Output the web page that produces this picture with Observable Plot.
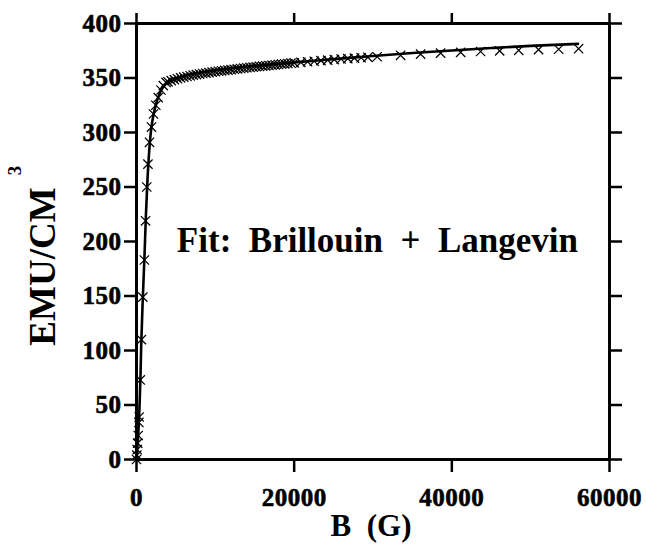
<!DOCTYPE html>
<html><head><meta charset="utf-8">
<script src="https://cdn.jsdelivr.net/npm/d3@7"></script>
<script src="https://cdn.jsdelivr.net/npm/@observablehq/plot@0.6"></script>
<style>body{margin:0;background:#fff}</style>
</head><body><div id="chart"></div>
<script>
// measured points (B in gauss, M in emu/cm^3)
const fieldB = [0, 40, 90, 150, 220, 300, 340, 480, 620, 800, 1000, 1150, 1300, 1450, 1650, 1900, 2150, 2450, 2750, 3100, 3400, 3750,
  4000, 4400, 4800, 5200, 5600, 6000, 6400, 6800, 7200, 7600, 8000, 8400, 8800, 9200, 9600, 10000, 10400, 10800, 11200, 11600,
  12000, 12400, 12800, 13200, 13600, 14000, 14400, 14800, 15200, 15600, 16000, 16400, 16800, 17200, 17600, 18000, 18400, 18800,
  19200, 19600, 20000, 20850, 21700, 22550, 23400, 24250, 25100, 25950, 26800, 27650, 28500, 29350,
  30530, 33500, 36040, 38580, 41120, 43650, 46070, 48480, 51000, 53550, 56080];
const magM = [0, 4, 9, 15, 22, 34, 39, 73, 110, 149, 183, 219, 250, 271, 291, 305, 317, 325, 332, 339, 343, 346,
  346.5, 347.6, 348.5, 349.3, 350.1, 350.8, 351.4, 352.0, 352.6, 353.1, 353.6, 354.1, 354.5, 355.0, 355.4, 355.8, 356.2, 356.6, 357.0, 357.3,
  357.7, 358.0, 358.4, 358.7, 359.0, 359.4, 359.7, 360.0, 360.3, 360.6, 360.9, 361.2, 361.5, 361.8, 362.1, 362.4, 362.7, 363.0,
  363.3, 363.6, 363.9, 364.4, 364.9, 365.4, 365.9, 366.4, 366.9, 367.4, 367.8, 368.2, 368.6, 369.0,
  369.5, 370.8, 371.9, 372.8, 373.5, 374.3, 374.9, 375.4, 376.0, 376.4, 376.9];
// fitted curve (Brillouin + Langevin)
const fitB = [0, 100, 200, 300, 400, 500, 600, 800, 1000, 1200, 1400, 1600, 1800, 2000, 2300, 2600, 3000, 3500, 4000, 5000, 6000,
  8000, 10000, 12000, 14000, 16000, 18000, 20000, 25000, 30000, 35000, 40000, 45000, 50000, 56000];
const fitM = [0, 10, 20, 35, 52, 75, 105, 148, 184, 225, 258, 282, 299, 310, 321, 329, 337, 343, 346.5, 349.5, 351.8,
  354.8, 357, 358.8, 360.3, 361.7, 363, 364.3, 367.3, 370.2, 372.9, 375.3, 377.5, 379.5, 381.3];
const xTicks = [0, 20000, 40000, 60000];
const yTicks = [0, 50, 100, 150, 200, 250, 300, 350, 400];
const xLabel = "B  (G)";
const yLabel = "EMU/CM";
const yLabelSup = "3";
const noteText = "Fit:  Brillouin  +  Langevin";
const noteB = 30560;
const noteM = 201;

const points = fieldB.map((b, i) => ({b, m: magM[i]}));
const fit = fitB.map((b, i) => ({b, m: fitM[i]}));
const serif = "'Liberation Serif','Times New Roman',serif";

const chart = Plot.plot({
  width: 646, height: 544,
  marginLeft: 136, marginRight: 37, marginTop: 23, marginBottom: 85,
  style: {fontFamily: serif, fontWeight: "bold", fontSize: "25px", color: "black", background: "white"},
  x: {domain: [0, 60000]},
  y: {domain: [0, 400]},
  marks: [
    Plot.line(fit, {x: "b", y: "m", curve: "monotone-x", stroke: "black", strokeWidth: 2.6}),
    Plot.dot(points, {x: "b", y: "m", symbol: "times", r: 4.3, stroke: "black", strokeWidth: 1.25}),
    Plot.frame({stroke: "black", strokeWidth: 3}),
    Plot.axisX({anchor: "bottom", ticks: xTicks, tickSize: 13, strokeWidth: 2.5, tickPadding: 16, label: null, tickFormat: "d"}),
    Plot.axisX({anchor: "top", ticks: xTicks, tickSize: 11, strokeWidth: 2.5, tickFormat: () => "", label: null}),
    Plot.axisY({anchor: "left", ticks: yTicks, tickSize: 12, strokeWidth: 2.5, tickPadding: 3, label: null, tickFormat: "d"}),
    Plot.axisY({anchor: "right", ticks: yTicks, tickSize: 12, strokeWidth: 2.5, tickFormat: () => "", label: null}),
    Plot.text([{b: noteB, m: noteM, t: noteText}], {x: "b", y: "m", text: "t", fontSize: 35, fontWeight: "bold", fill: "black"}),
    Plot.text([xLabel], {text: d => d, frameAnchor: "bottom", textAnchor: "middle", lineAnchor: "middle", dx: -2, dy: 67, fontSize: 31, fill: "black"}),
    Plot.text([yLabel], {text: d => d, frameAnchor: "left", textAnchor: "middle", lineAnchor: "middle", rotate: -90, dx: -93, dy: 25, fontSize: 37, fill: "black"}),
    Plot.text([yLabelSup], {text: d => d, frameAnchor: "left", textAnchor: "middle", lineAnchor: "middle", rotate: -90, dx: -122, dy: -71, fontSize: 19, fill: "black"})
  ]
});
const svg = d3.select(chart);
svg.selectAll('g[aria-label="x-axis tick label"], g[aria-label="y-axis tick label"]')
  .attr("font-size", 25).style("font-size", "25px")
  .attr("font-weight", "bold").style("font-weight", "bold")
  .attr("font-family", serif).style("font-family", serif)
  .attr("stroke", "black").attr("stroke-width", 0.6);
svg.selectAll('g[aria-label="x-axis tick label"] text, g[aria-label="y-axis tick label"] text')
  .attr("letter-spacing", "0.5px");
svg.selectAll("text").style("white-space", "pre");
document.getElementById("chart").appendChild(chart);
</script>
</body></html>
